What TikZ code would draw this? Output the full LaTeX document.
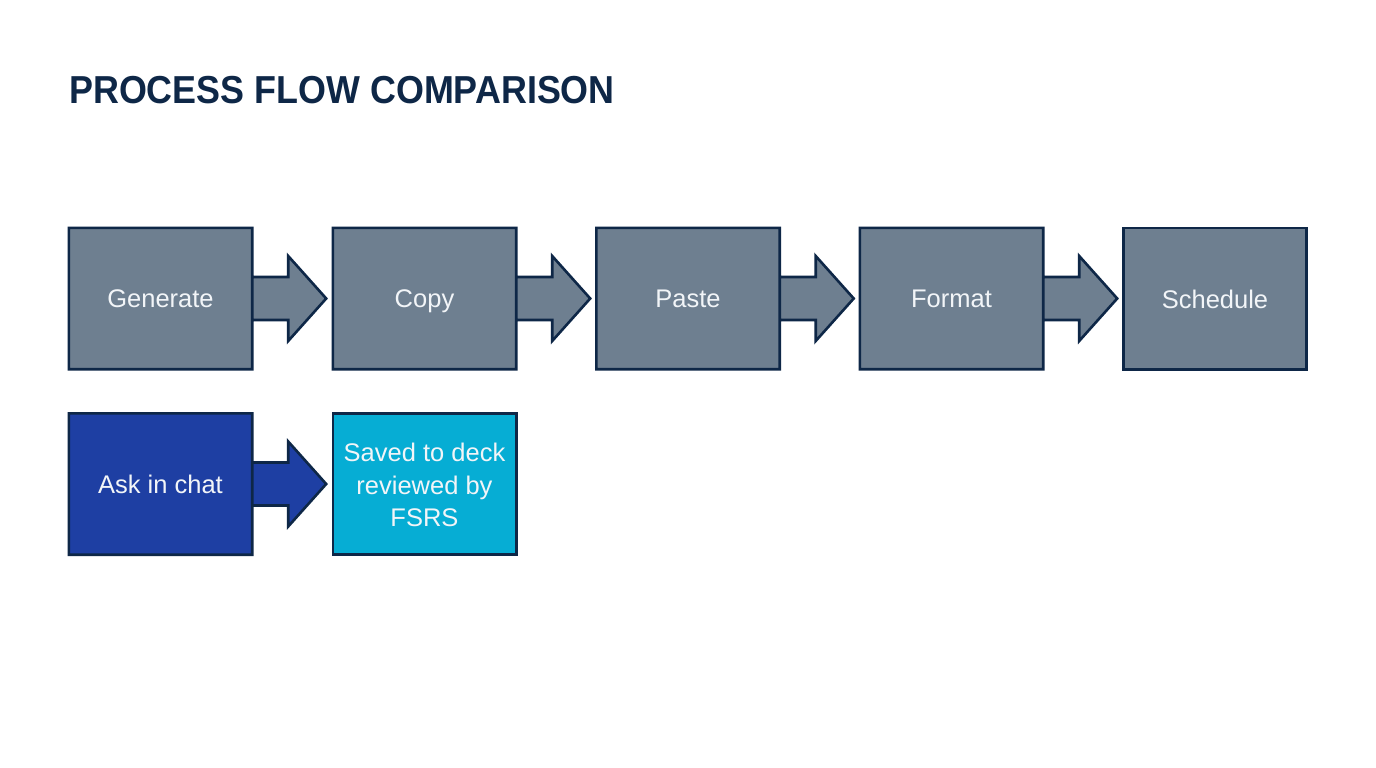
\documentclass[tikz,border=0pt]{standalone}
\usepackage{fontspec}
\setmainfont{Liberation Sans}
\newfontfamily\titlefont[FakeStretch=0.92]{Liberation Sans}
\usetikzlibrary{calc}
\definecolor{navy}{HTML}{0E2747}
\definecolor{slate}{HTML}{6E7F90}
\definecolor{royal}{HTML}{1E3FA3}
\definecolor{cyanbox}{HTML}{06ADD4}
\definecolor{txt}{HTML}{F2F5F8}
\tikzset{
  box/.style={minimum width=183pt, minimum height=141pt, inner sep=0pt, text=txt,
    font=\fontsize{25.5}{32.5}\selectfont, align=center},
  lbl/.style={box, yshift=-3pt},
  outline/.style={draw=navy, line width=2.6pt, line join=miter},
}
\newcommand{\arrowbox}[2]{%
  \filldraw[outline, fill=#2] (#1.north west) -- (#1.north east) -- ($(#1.east)+(0,21.5)$) -- ($(#1.east)+(36,21.5)$)
    -- ($(#1.east)+(36,42.5)$) -- ($(#1.east)+(74,0)$) -- ($(#1.east)+(36,-42.5)$)
    -- ($(#1.east)+(36,-21.5)$) -- ($(#1.east)+(0,-21.5)$) -- (#1.south east) -- (#1.south west) -- cycle;
}
\newcommand{\lab}[1]{\vphantom{Agy}#1}
\begin{document}
\begin{tikzpicture}[x=1pt,y=-1pt]
\useasboundingbox[fill=white] (0,0) rectangle (1376,768);
\node[anchor=west, text=navy, font=\fontsize{39}{40}\titlefont\bfseries, inner sep=0pt] (title) at (69,90) {PROCESS FLOW COMPARISON};

\node[box] (gen) at (160.5,298.5) {};
\node[box] (copy) at (424.5,298.5) {};
\node[box] (paste) at (688,298.5) {};
\node[box] (fmt) at (951.5,298.5) {};
\node[box] (sched) at (1215,298.5) {};
\arrowbox{gen}{slate}
\arrowbox{copy}{slate}
\arrowbox{paste}{slate}
\arrowbox{fmt}{slate}
\draw[outline, fill=slate] (sched.north west) rectangle (sched.south east);
\node[lbl] (genl) at (gen) {\lab{Generate}};
\node[lbl] (copyl) at (copy) {\lab{Copy}};
\node[lbl] (pastel) at (paste) {\lab{Paste}};
\node[lbl] (fmtl) at (fmt) {\lab{Format}};
\node[lbl] (schedl) at (sched) {\lab{Schedule}};

\node[box] (ask) at (160.5,484) {};
\node[box] (saved) at (424.5,484) {};
\arrowbox{ask}{royal}
\draw[outline, fill=cyanbox] (saved.north west) rectangle (saved.south east);
\node[lbl] (askl) at (ask) {\lab{Ask in chat}};
\node[box, yshift=-1pt] (savedl) at (saved) {Saved to deck\\reviewed by\\FSRS};
\end{tikzpicture}
\end{document}
